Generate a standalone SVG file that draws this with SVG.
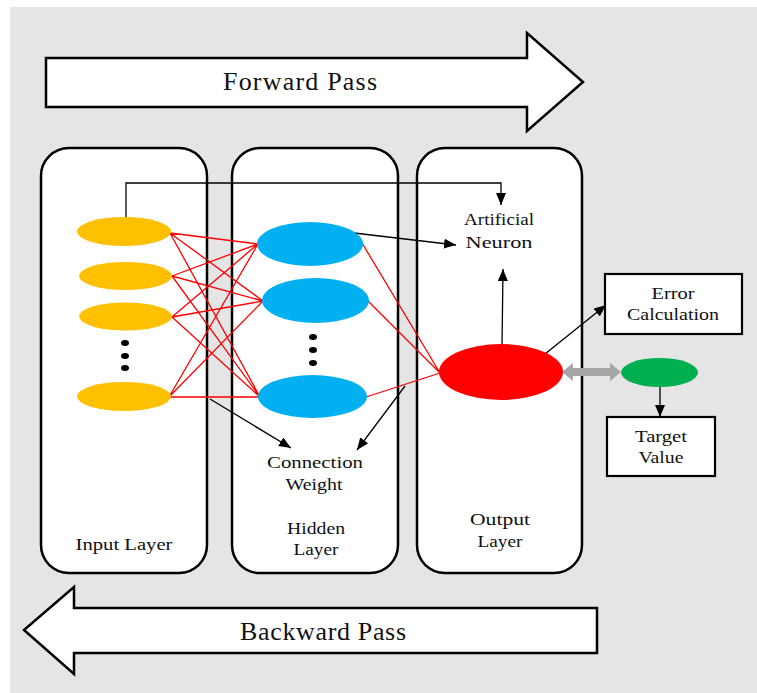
<svg xmlns="http://www.w3.org/2000/svg" width="757" height="693" viewBox="0 0 757 693">
  <defs>
    <style>
      .bg { fill: #e5e5e5; }
      .big-arrow { fill: #ffffff; stroke: #000000; stroke-width: 2.5; stroke-linejoin: miter; }
      .layer { fill: #ffffff; stroke: #000000; stroke-width: 2.5; }
      .box { fill: #ffffff; stroke: #000000; stroke-width: 2.2; }
      .big { font-family: "Liberation Serif", "Times New Roman", serif; font-size: 26px; fill: #111111; text-anchor: middle; }
      .lbl { font-family: "Liberation Serif", "Times New Roman", serif; font-size: 16.5px; fill: #111111; text-anchor: middle; }
      .in { fill: #ffc000; }
      .hid { fill: #00b0f0; }
      .out { fill: #ff0000; }
      .tgt { fill: #00b050; }
      .dot { fill: #000000; }
      .w { stroke: #ff0000; stroke-width: 1.3; fill: none; }
      .link { stroke: #000000; stroke-width: 1.3; fill: none; marker-end: url(#head); }
    </style>
    <marker id="head" markerWidth="12" markerHeight="10" refX="12" refY="5" orient="auto" markerUnits="userSpaceOnUse">
      <path d="M0,0 L12,5 L0,10 Z" fill="#000000"/>
    </marker>
  </defs>

  <!-- canvas -->
  <rect class="bg" x="10" y="7" width="747" height="686"/>

  <!-- forward / backward pass arrows -->
  <g id="forward-pass">
    <path class="big-arrow" d="M46,58 L527,58 L527,33 L583,82 L527,131 L527,107 L46,107 Z"/>
    <text class="big" x="300" y="90" textLength="154">Forward Pass</text>
  </g>
  <g id="backward-pass">
    <path class="big-arrow" d="M597,608 L74,608 L74,587 L24,630 L74,674 L74,653 L597,653 Z"/>
    <text class="big" x="323" y="640" textLength="166">Backward Pass</text>
  </g>

  <!-- layer panels -->
  <g id="input-layer">
    <rect class="layer" x="41" y="148" width="166" height="425" rx="28" ry="28"/>
    <text class="lbl" x="124" y="550" textLength="97" lengthAdjust="spacingAndGlyphs">Input Layer</text>
  </g>
  <g id="hidden-layer">
    <rect class="layer" x="232" y="148" width="166" height="425" rx="28" ry="28"/>
    <text class="lbl" x="316" y="534" textLength="58" lengthAdjust="spacingAndGlyphs">Hidden</text>
    <text class="lbl" x="316" y="555" textLength="45" lengthAdjust="spacingAndGlyphs">Layer</text>
  </g>
  <g id="output-layer">
    <rect class="layer" x="417" y="148" width="165" height="425" rx="28" ry="28"/>
    <text class="lbl" x="500" y="525" textLength="60" lengthAdjust="spacingAndGlyphs">Output</text>
    <text class="lbl" x="500" y="547" textLength="45" lengthAdjust="spacingAndGlyphs">Layer</text>
  </g>

  <!-- connectors -->
  <g id="connectors">
    <!-- weights input -> hidden -->
    <path class="w" d="M170,233 L258,244 M170,233 L263,301 M170,233 L260,397
                       M172,276 L258,244 M172,276 L263,301 M172,276 L260,397
                       M172,317 L258,244 M172,317 L263,301 M172,317 L260,397
                       M169,397 L258,244 M169,397 L263,301 M169,397 L260,397"/>
    <!-- weights hidden -> output -->
    <path class="w" d="M362,243 L440,373 M368,301 L440,373 M366,397 L440,373"/>
    <!-- annotation pointers -->
    <path class="link" d="M126,218 L126,183 L501,183 L501,205"/>
    <path class="link" d="M354,233 L456,245"/>
    <path class="link" d="M502,347 L503,269"/>
    <path class="link" d="M545,354 L606,305"/>
    <path class="link" d="M660,387 L660,417"/>
    <path class="link" d="M210,399 L291,448"/>
    <path class="link" d="M405,386 L357,450"/>
    <!-- output <-> target comparison -->
    <path fill="#a6a6a6" d="M562,372 L573,363 L573,368 L610,368 L610,363 L621,372 L610,381 L610,376 L573,376 L573,381 Z"/>
  </g>

  <!-- input neurons -->
  <g id="input-neurons">
    <ellipse class="in" cx="124" cy="231.5" rx="47" ry="14.5"/>
    <ellipse class="in" cx="125.5" cy="276" rx="46.5" ry="14"/>
    <ellipse class="in" cx="125.5" cy="316.5" rx="46.5" ry="14"/>
    <ellipse class="in" cx="124" cy="396.5" rx="47" ry="14.5"/>
    <ellipse class="dot" cx="125" cy="343" rx="4" ry="3"/>
    <ellipse class="dot" cx="125" cy="356" rx="4" ry="3"/>
    <ellipse class="dot" cx="125" cy="368" rx="4" ry="3"/>
  </g>

  <!-- hidden neurons -->
  <g id="hidden-neurons">
    <ellipse class="hid" cx="310" cy="244" rx="53" ry="22"/>
    <ellipse class="hid" cx="315.5" cy="300.5" rx="53.5" ry="22.5"/>
    <ellipse class="hid" cx="312.5" cy="396.5" rx="54.5" ry="21.5"/>
    <ellipse class="dot" cx="313" cy="337" rx="4" ry="3"/>
    <ellipse class="dot" cx="313" cy="350" rx="4" ry="3"/>
    <ellipse class="dot" cx="313" cy="363" rx="4" ry="3"/>
  </g>

  <!-- output neuron -->
  <g id="output-neuron">
    <ellipse class="out" cx="501" cy="372" rx="62" ry="28"/>
  </g>

  <!-- target -->
  <g id="target-node">
    <ellipse class="tgt" cx="659.5" cy="372.5" rx="38.5" ry="14.5"/>
  </g>

  <g id="error-calculation">
    <rect class="box" x="605" y="274" width="137" height="60"/>
    <text class="lbl" x="673" y="299" textLength="43" lengthAdjust="spacingAndGlyphs">Error</text>
    <text class="lbl" x="673" y="320" textLength="92" lengthAdjust="spacingAndGlyphs">Calculation</text>
  </g>

  <g id="target-value">
    <rect class="box" x="607" y="417" width="108" height="59"/>
    <text class="lbl" x="661" y="442" textLength="52" lengthAdjust="spacingAndGlyphs">Target</text>
    <text class="lbl" x="661" y="463" textLength="45" lengthAdjust="spacingAndGlyphs">Value</text>
  </g>

  <!-- annotations -->
  <g id="artificial-neuron-label">
    <text class="lbl" x="499" y="225" textLength="70" lengthAdjust="spacingAndGlyphs">Artificial</text>
    <text class="lbl" x="499" y="248" textLength="67" lengthAdjust="spacingAndGlyphs">Neuron</text>
  </g>
  <g id="connection-weight-label">
    <text class="lbl" x="315" y="468" textLength="96" lengthAdjust="spacingAndGlyphs">Connection</text>
    <text class="lbl" x="314" y="490" textLength="57" lengthAdjust="spacingAndGlyphs">Weight</text>
  </g>
</svg>
